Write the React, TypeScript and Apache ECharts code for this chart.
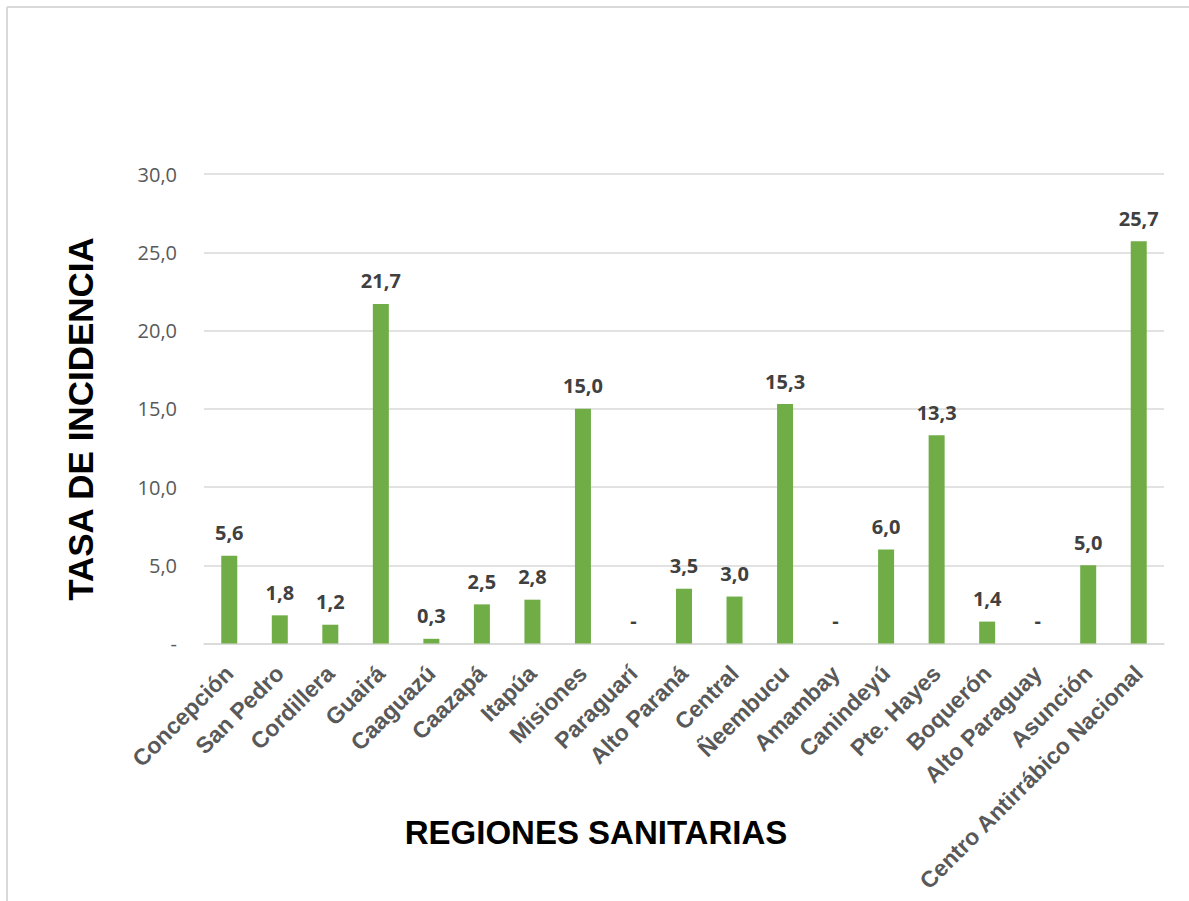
import React, { useEffect, useRef } from "react";
import * as echarts from "echarts";

const categories = [
  "Concepción", "San Pedro", "Cordillera", "Guairá", "Caaguazú", "Caazapá", "Itapúa",
  "Misiones", "Paraguarí", "Alto Paraná", "Central", "Ñeembucu", "Amambay", "Canindeyú",
  "Pte. Hayes", "Boquerón", "Alto Paraguay", "Asunción", "Centro Antirrábico Nacional",
];
const values = [5.6, 1.8, 1.2, 21.7, 0.3, 2.5, 2.8, 15.0, 0, 3.5, 3.0, 15.3, 0, 6.0, 13.3, 1.4, 0, 5.0, 25.7];
const yMin = 0;
const yMax = 30;
const yInterval = 5;
const yTitle = "TASA DE INCIDENCIA";
const xTitle = "REGIONES SANITARIAS";

const fmt = (v: number) => (v === 0 ? "-" : v.toFixed(1).replace(".", ","));

export default function App() {
  const ref = useRef<HTMLDivElement>(null);
  useEffect(() => {
    document.body.style.margin = "0";
    if (!ref.current) return;
    const chart = echarts.init(ref.current, null, { renderer: "svg" });
    chart.setOption({
      animation: false,
      backgroundColor: "#ffffff",
      grid: { left: 204, right: 25, top: 174, bottom: 257.5, containLabel: false },
      graphic: [
        { type: "line", shape: { x1: 7, y1: 7, x2: 1189, y2: 7 }, style: { stroke: "#d9d9d9", lineWidth: 2 } },
        { type: "line", shape: { x1: 7, y1: 7, x2: 7, y2: 901 }, style: { stroke: "#d9d9d9", lineWidth: 2 } },
        {
          type: "text",
          x: 80,
          y: 419,
          rotation: Math.PI / 2,
          style: {
            text: yTitle,
            fill: "#000000",
            font: "bold 35px 'Liberation Sans', Arial, sans-serif",
            textAlign: "center",
            textVerticalAlign: "middle",
          },
        },
        {
          type: "text",
          x: 596,
          y: 832,
          style: {
            text: xTitle,
            fill: "#000000",
            font: "bold 33px 'Liberation Sans', Arial, sans-serif",
            textAlign: "center",
            textVerticalAlign: "middle",
          },
        },
      ],
      xAxis: {
        type: "category",
        data: categories,
        axisLine: { show: true, lineStyle: { color: "#d9d9d9", width: 1.5 } },
        axisTick: { show: false },
        axisLabel: {
          rotate: 45,
          interval: 0,
          margin: 26,
          color: "#595959",
          fontWeight: "bold",
          fontSize: 23,
          fontFamily: "'Liberation Sans', Arial, sans-serif",
        },
      },
      yAxis: {
        type: "value",
        min: yMin,
        max: yMax,
        interval: yInterval,
        axisLine: { show: false },
        axisTick: { show: false },
        splitLine: { lineStyle: { color: "#d9d9d9", width: 1.5 } },
        axisLabel: {
          margin: 27,
          color: "#595959",
          fontSize: 20,
          fontFamily: "'Open Sans', sans-serif",
          formatter: (v: number) => fmt(v),
        },
      },
      series: [
        {
          type: "bar",
          data: values,
          barWidth: 16,
          itemStyle: { color: "#70ad47" },
          label: {
            show: true,
            position: "top",
            distance: 13,
            color: "#404040",
            fontWeight: "bold",
            fontSize: 20,
            fontFamily: "'Open Sans', sans-serif",
            formatter: (p: any) => fmt(p.value),
          },
        },
      ],
    });
    return () => chart.dispose();
  }, []);
  return <div ref={ref} style={{ width: 1189, height: 901 }} />;
}
